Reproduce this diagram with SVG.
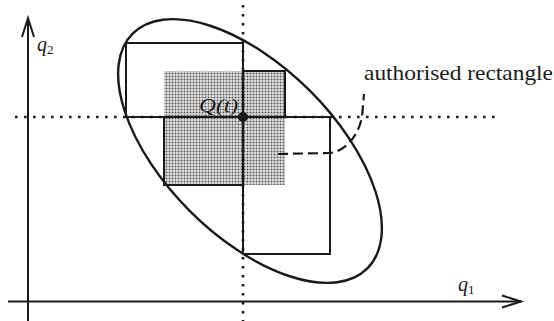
<svg xmlns="http://www.w3.org/2000/svg" width="554" height="321" viewBox="0 0 554 321">
  <style>
    .solid { fill: none; stroke: #1a1a1a; stroke-width: 2; }
    .ell { fill: none; stroke: #1a1a1a; stroke-width: 2.4; }
    .dot { fill: none; stroke: #1a1a1a; stroke-width: 2.6; stroke-dasharray: 2.6 6.4; }
    .dash { fill: none; stroke: #1a1a1a; stroke-width: 2.2; stroke-dasharray: 10 5; }
    .lbl { font-family: "Liberation Serif", "DejaVu Serif", serif; fill: #1a1a1a; }
    .it { font-style: italic; }
  </style>
  <defs>
    <pattern id="stipple" width="3" height="3" patternUnits="userSpaceOnUse">
      <rect width="3" height="3" fill="#e2e2e2"/>
      <circle cx="1.5" cy="1.5" r="1" fill="#5a5a5a"/>
    </pattern>
    <marker id="arrow" markerUnits="userSpaceOnUse" markerWidth="24" markerHeight="16" refX="20" refY="8" orient="auto">
      <path d="M1,2 L20,8 L1,14" fill="none" stroke="#1a1a1a" stroke-width="2"/>
    </marker>
  </defs>

  <g id="shaded-rectangle">
    <rect x="164" y="71" width="121" height="114" fill="url(#stipple)"/>
    <polyline class="solid" points="243,71 285,71 285,117"/>
    <polyline class="solid" points="164,117 164,185 243,185"/>
  </g>

  <g id="connectors">
    <line class="dot" x1="243" y1="5" x2="243" y2="321"/>
    <line class="dot" x1="15" y1="117" x2="497" y2="117"/>
    <line id="axis-q1" class="solid" x1="8" y1="301.5" x2="521" y2="301.5" marker-end="url(#arrow)"/>
    <line id="axis-q2" class="solid" x1="28" y1="321" x2="28" y2="18" marker-end="url(#arrow)"/>
    <path id="leader" class="dash" d="M278,154 L330,153 C345,151 358,137 362,117 L364,94"/>
  </g>

  <g id="rect-top-left">
    <rect class="solid" x="126" y="43" width="117" height="74"/>
  </g>
  <g id="rect-bottom-right">
    <rect class="solid" x="243" y="117" width="87" height="137"/>
  </g>

  <g id="ellipse">
    <ellipse class="ell" cx="0" cy="0" rx="166" ry="85" transform="translate(250,151) rotate(45)"/>
  </g>

  <g id="point-Q">
    <circle cx="243" cy="117" r="5" fill="#1a1a1a"/>
    <text class="lbl it" x="199" y="112" font-size="18" textLength="39" lengthAdjust="spacingAndGlyphs">Q(t)</text>
  </g>

  <g id="label-authorised">
    <text class="lbl" x="364" y="80" font-size="21" textLength="189" lengthAdjust="spacingAndGlyphs">authorised rectangle</text>
  </g>

  <g id="label-q2">
    <text class="lbl it" x="37" y="51" font-size="20">q<tspan font-size="13" font-style="normal" dy="3">2</tspan></text>
  </g>
  <g id="label-q1">
    <text class="lbl it" x="458" y="291" font-size="20">q<tspan font-size="13" font-style="normal" dy="3">1</tspan></text>
  </g>
</svg>
